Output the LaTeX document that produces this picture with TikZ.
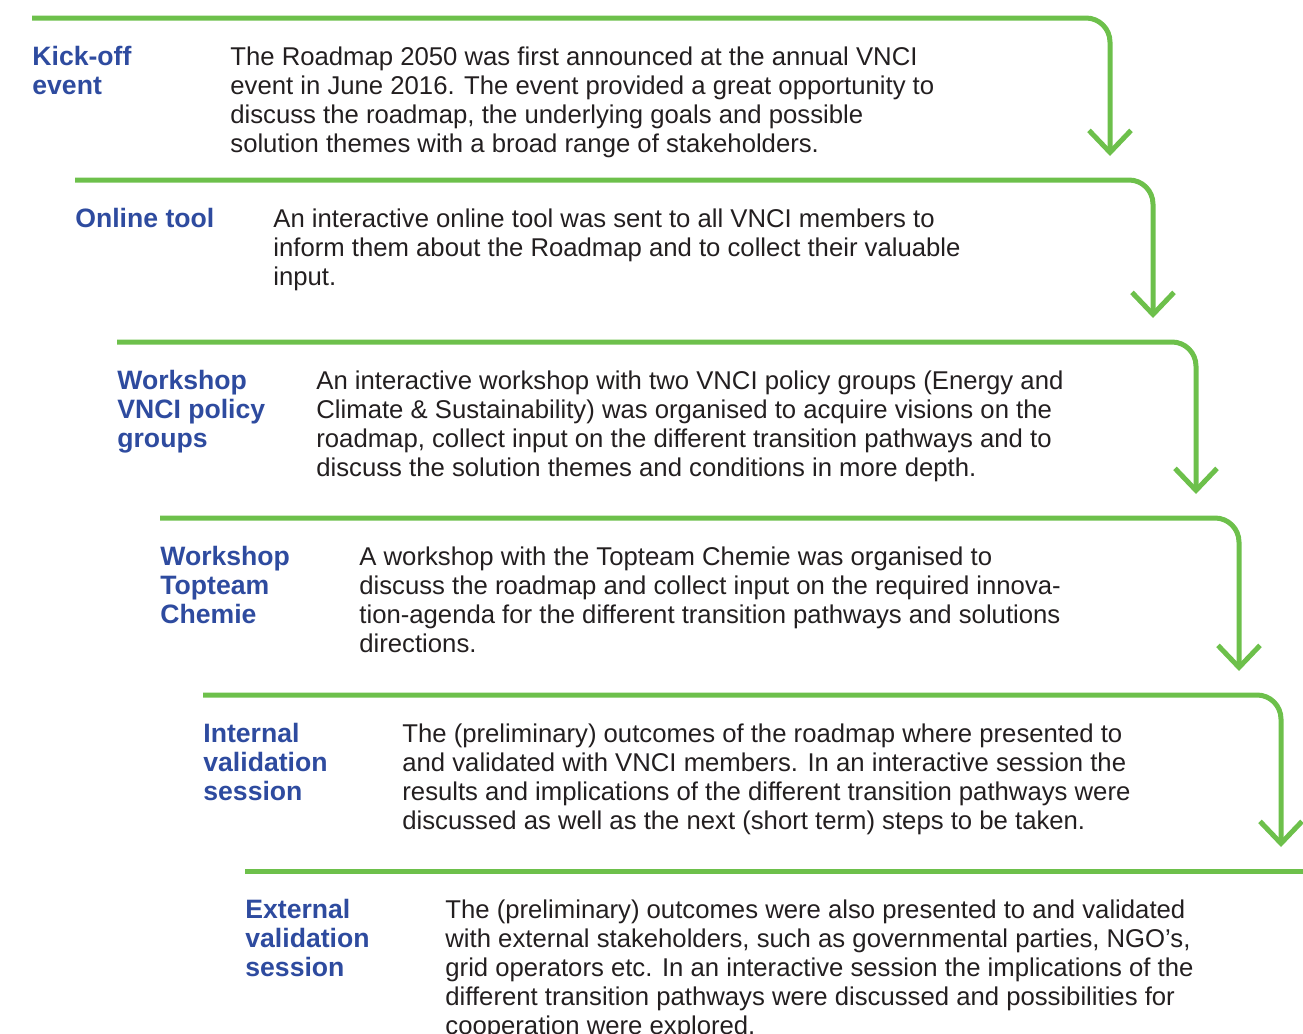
\documentclass[tikz,border=0pt]{standalone}
\usepackage{fontspec}
\setmainfont{Liberation Sans}
\usetikzlibrary{arrows.meta}
\definecolor{flowgreen}{HTML}{6DC04B}
\definecolor{labelblue}{HTML}{2E4B9F}
\definecolor{bodytext}{HTML}{231F20}
\begin{document}
\begin{tikzpicture}[x=0.5pt,y=-0.5pt,
  flow/.style={draw=flowgreen, line width=2.5pt, rounded corners=12pt,
    -{Straight Barb[length=11pt,width=21pt,line width=2.5pt]}},
  flatline/.style={draw=flowgreen, line width=2.5pt},
  steplabel/.style={anchor=base west, inner sep=0pt, align=left, text=labelblue,
    font=\fontsize{13.3pt}{14.5pt}\selectfont\bfseries},
  stepbody/.style={anchor=base west, inner sep=0pt, align=left, text=bodytext,
    font=\fontsize{12.85pt}{14.5pt}\selectfont}]
\useasboundingbox (0,0) rectangle (1303,1034);

% connectors
\coordinate (s1) at (32,18);  \coordinate (c1) at (1110,18);  \coordinate (t1) at (1110,156);
\coordinate (s2) at (75,180); \coordinate (c2) at (1153,180); \coordinate (t2) at (1153,318);
\coordinate (s3) at (117,342); \coordinate (c3) at (1196,342); \coordinate (t3) at (1196,494);
\coordinate (s4) at (160,518); \coordinate (c4) at (1239,518); \coordinate (t4) at (1239,671);
\coordinate (s5) at (203,695); \coordinate (c5) at (1281,695); \coordinate (t5) at (1281,847);
\coordinate (s6) at (245,871); \coordinate (e6) at (1303,871);

\draw[flow] (s1) -- (c1) -- (t1);
\draw[flow] (s2) -- (c2) -- (t2);
\draw[flow] (s3) -- (c3) -- (t3);
\draw[flow] (s4) -- (c4) -- (t4);
\draw[flow] (s5) -- (c5) -- (t5);
\draw[flatline] (s6) -- (e6);

% texts (base anchor = baseline of the last line)
\node[steplabel] (l1) at (32,94) {Kick-off\\event};
\node[stepbody] (b1) at (230,152) {The Roadmap 2050 was first announced at the annual VNCI\\event in June 2016. The event provided a great opportunity to\\discuss the roadmap, the underlying goals and possible\\solution themes with a broad range of stakeholders.};

\node[steplabel] (l2) at (75,227) {Online tool};
\node[stepbody] (b2) at (273,285) {An interactive online tool was sent to all VNCI members to\\inform them about the Roadmap and to collect their valuable\\input.};

\node[steplabel] (l3) at (117,447) {Workshop\\VNCI policy\\groups};
\node[stepbody] (b3) at (316,476) {An interactive workshop with two VNCI policy groups (Energy and\\Climate \& Sustainability) was organised to acquire visions on the\\roadmap, collect input on the different transition pathways and to\\discuss the solution themes and conditions in more depth.};

\node[steplabel] (l4) at (160,623) {Workshop\\Topteam\\Chemie};
\node[stepbody] (b4) at (359,652) {A workshop with the Topteam Chemie was organised to\\discuss the roadmap and collect input on the required innova-\\tion-agenda for the different transition pathways and solutions\\directions.};

\node[steplabel] (l5) at (203,800) {Internal\\validation\\session};
\node[stepbody] (b5) at (402,829) {The (preliminary) outcomes of the roadmap where presented to\\and validated with VNCI members. In an interactive session the\\results and implications of the different transition pathways were\\discussed as well as the next (short term) steps to be taken.};

\node[steplabel] (l6) at (245,976) {External\\validation\\session};
\node[stepbody] (b6) at (445,1034) {The (preliminary) outcomes were also presented to and validated\\with external stakeholders, such as governmental parties, NGO’s,\\grid operators etc. In an interactive session the implications of the\\different transition pathways were discussed and possibilities for\\cooperation were explored.};
\end{tikzpicture}
\end{document}
